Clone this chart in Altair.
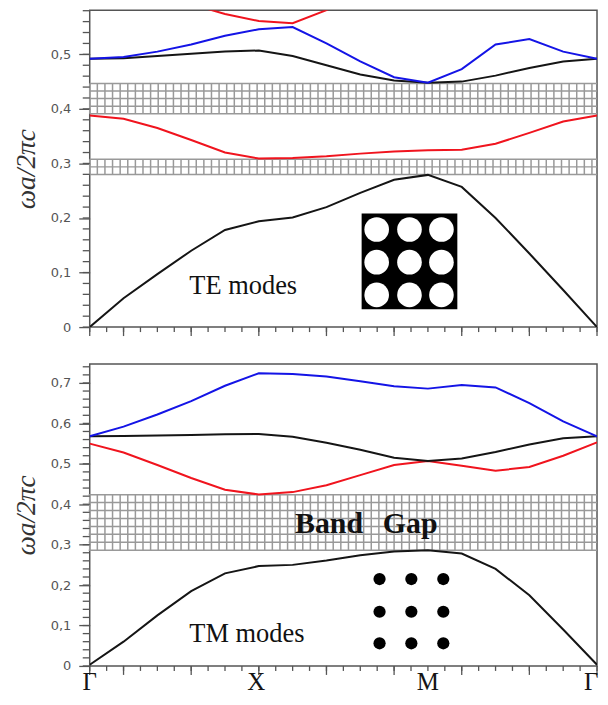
import altair as alt
import pandas as pd

# ---- shared x positions (path index Gamma-X-M-Gamma, 0..3)
x_pts = [0, .2, .4, .6, .8, 1, 1.2, 1.4, 1.6, 1.8, 2, 2.2, 2.4, 2.6, 2.8, 3]
x_label_pos = [0, .985, 2, 2.965]
x_label_txt = ["Γ", "X", "M", "Γ"]

# ---- TE panel
te_black_low = [0, .053, .097, .14, .178, .194, .201, .22, .246, .27, .279, .257, .2, .135, .068, 0]
te_red_low = [.388, .382, .365, .343, .32, .309, .31, .313, .318, .322, .324, .325, .336, .356, .377, .388]
te_black_up = [.492, .493, .497, .501, .505, .507, .497, .48, .463, .452, .448, .45, .461, .475, .487, .492]
te_blue = [.492, .495, .505, .518, .534, .546, .55, .52, .487, .458, .448, .473, .518, .528, .505, .492]
te_red_up_x = [.6, .8, 1, 1.2, 1.4, 1.6]
te_red_up = [.592, .574, .561, .557, .581, .62]

# ---- TM panel
tm_black_low = [.003, .06, .125, .185, .229, .247, .25, .261, .274, .283, .286, .278, .24, .175, .09, .003]
tm_black_up = [.568, .569, .570, .571, .573, .574, .567, .552, .535, .515, .507, .513, .529, .548, .563, .568]
tm_blue = [.568, .592, .622, .655, .693, .724, .722, .716, .704, .692, .686, .695, .689, .65, .605, .568]
tm_red = [.55, .528, .497, .465, .436, .424, .43, .447, .472, .497, .507, .495, .483, .492, .52, .553]

# ---- gap hatching
te_bands = [(.4466, .3912, 5), (.3077, .2797, 3)]
tm_bands = [(.4236, .2864, 8)]

# ---- inset lattices (positions in data units)
te_holes_x = [1.697, 1.891, 2.08]
te_holes_y = [.179, .119, .059]
te_square = (1.608, 2.174, .0329, .2084)
tm_holes_x = [1.714, 1.902, 2.091]
tm_holes_y = [.215, .134, .056]

GRAY = "#555555"
BLACK = "#151515"
RED = "#f0141e"
BLUE = "#1414e6"
GRID = "#999999"
SERIF = "Liberation Serif"


def panel(height, ymax, series, bands, band_x, y_vals, show_x, extra):
    xs = alt.Scale(domain=[0, 3], nice=False, zero=False)
    ys = alt.Scale(domain=[0, ymax], nice=False, zero=False)
    y_axis = alt.Axis(values=y_vals, title="ωa/2πc", titleFont=SERIF, titleFontStyle="italic",
                      titleFontWeight="normal", titleFontSize=27.5, titleColor="#333333", titlePadding=10,
                      labelExpr="datum.value == 0 ? '0' : replace(format(datum.value, '.1f'), '.', ',')",
                      labelFont="DejaVu Sans", labelFontSize=13, labelColor=GRAY, labelPadding=8,
                      tickSize=11, tickColor=GRAY, tickWidth=1.3, domain=False, grid=False)
    X = lambda: alt.X("x:Q", scale=xs, axis=None)
    Y = lambda: alt.Y("y:Q", scale=ys, axis=y_axis)

    majors_x = [0] + [.2 + .4 * k for k in range(8)]
    minors_x = [i / 10 for i in range(31)]
    minors_y = [i * .02 for i in range(int(ymax / .02) + 1)]

    def rules(df, **kw):
        return alt.Chart(df).mark_rule(color=GRAY, strokeWidth=1.3, clip=False).encode(**kw)

    xtick_major = rules(pd.DataFrame({"x": majors_x}), x=X(), y=alt.value(height), y2=alt.value(height + 9))
    xtick_minor = rules(pd.DataFrame({"x": minors_x}), x=X(), y=alt.value(height), y2=alt.value(height + 5))
    ytick_minor = rules(pd.DataFrame({"y": minors_y}), y=Y(), x=alt.value(-7), x2=alt.value(0))

    # hatched gap bands
    h_rows, v_rows = [], []
    for top, bottom, n in bands:
        for i in range(n):
            h_rows.append({"y": top + (bottom - top) * i / (n - 1), "x": band_x[0], "x2": band_x[1]})
        k = 0
        while k * .045 <= 3.0:
            v_rows.append({"x": k * .045, "y": top, "y2": bottom})
            k += 1
    grid_h = alt.Chart(pd.DataFrame(h_rows)).mark_rule(color=GRID, strokeWidth=1.5, clip=False).encode(
        x=X(), x2="x2:Q", y=Y())
    grid_v = alt.Chart(pd.DataFrame(v_rows)).mark_rule(color=GRID, strokeWidth=1.5, clip=False).encode(
        x=X(), y=Y(), y2="y2:Q")

    lines = []
    for xv, yv, col in series:
        lines.append(alt.Chart(pd.DataFrame({"x": xv, "y": yv})).mark_line(
            color=col, strokeWidth=2, clip=True).encode(x=X(), y=Y()))

    layers = [grid_h, grid_v, *lines, *extra(X, Y), xtick_minor, xtick_major, ytick_minor]
    if show_x:
        lab = alt.Chart(pd.DataFrame({"x": x_label_pos, "t": x_label_txt})).mark_text(
            font=SERIF, fontSize=25, color=BLACK, align="center", baseline="alphabetic").encode(
            x=X(), y=alt.value(height + 24), text="t:N")
        layers.append(lab)
    return alt.layer(*layers).properties(width=509, height=height)


def text_mark(txt, x, y, X, Y, size, weight="normal"):
    return alt.Chart(pd.DataFrame({"x": [x], "y": [y], "t": [txt]})).mark_text(
        font=SERIF, fontSize=size, fontWeight=weight, color="#111111", align="left", baseline="middle").encode(
        x=X(), y=Y(), text="t:N")


def te_extra(X, Y):
    square = alt.Chart(pd.DataFrame([{"x": te_square[0], "x2": te_square[1], "y": te_square[2], "y2": te_square[3]}])).mark_rect(
        color="black").encode(x=X(), x2="x2:Q", y=Y(), y2="y2:Q")
    df = pd.DataFrame([{"x": a, "y": b} for a in te_holes_x for b in te_holes_y])
    holes = alt.Chart(df).mark_point(filled=True, color="white", opacity=1, size=610, shape="circle").encode(x=X(), y=Y())
    return [square, holes, text_mark("TE modes", .589, .075, X, Y, 26.5)]


def tm_extra(X, Y):
    df = pd.DataFrame([{"x": a, "y": b} for a in tm_holes_x for b in tm_holes_y])
    holes = alt.Chart(df).mark_point(filled=True, color="black", opacity=1, size=150, shape="circle").encode(x=X(), y=Y())
    return [text_mark("Band", 1.214, .35, X, Y, 30, "bold"), text_mark("Gap", 1.733, .35, X, Y, 30, "bold"),
            holes, text_mark("TM modes", .589, .08, X, Y, 26.5)]


te = panel(318, .581,
           [(x_pts, te_black_low, BLACK), (x_pts, te_red_low, RED), (x_pts, te_black_up, BLACK),
            (x_pts, te_blue, BLUE), (te_red_up_x, te_red_up, RED)],
           te_bands, (0, 3), [0, .1, .2, .3, .4, .5], False, te_extra)
tm = panel(303, .747,
           [(x_pts, tm_black_low, BLACK), (x_pts, tm_red, RED), (x_pts, tm_black_up, BLACK), (x_pts, tm_blue, BLUE)],
           tm_bands, (-.006, 3.0), [0, .1, .2, .3, .4, .5, .6, .7], True, tm_extra)

chart = alt.vconcat(te, tm, spacing=25).properties(
    padding={"left": 3, "top": 0, "right": 0, "bottom": 0}
).configure_view(stroke=GRAY, strokeWidth=1.5)

chart.save("out.html", embed_options={"renderer": "svg", "actions": False})
